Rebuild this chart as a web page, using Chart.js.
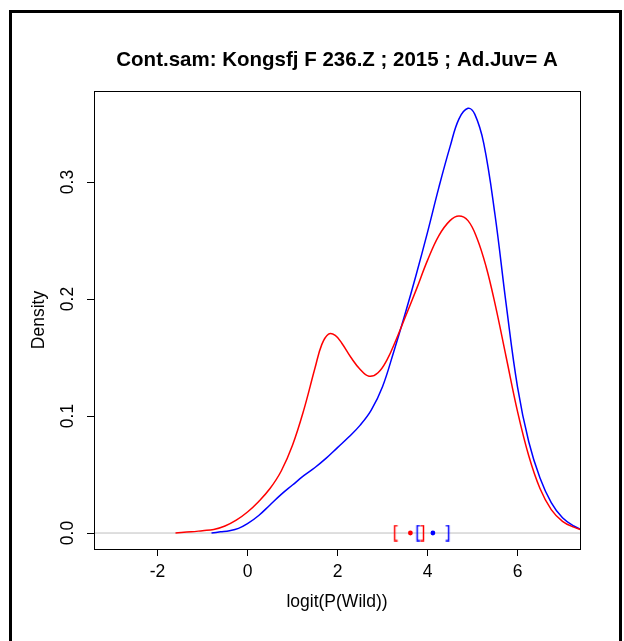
<!DOCTYPE html>
<html><head><meta charset="utf-8">
<script src="https://cdn.jsdelivr.net/npm/chart.js@4"></script>
<style>
html,body{margin:0;padding:0;background:#fff;overflow:hidden;width:624px;height:641px;}
#frame{position:absolute;left:9px;top:10px;width:613px;height:700px;border:3px solid #000;box-sizing:border-box;}
#c{position:absolute;left:0;top:0;}
</style></head><body>
<div id="frame"></div>
<canvas id="c" width="624" height="641"></canvas>
<script>
const titleText = "Cont.sam: Kongsfj F 236.Z ; 2015 ; Ad.Juv= A";
const xAxisLabel = "logit(P(Wild))";
const yAxisLabel = "Density";
const xTicks = [-2, 0, 2, 4, 6];
const xTickLabels = ["-2", "0", "2", "4", "6"];
const yTicks = [0, 0.1, 0.2, 0.3];
const yTickLabels = ["0.0", "0.1", "0.2", "0.3"];

const redX = [-1.6,-1.25,-1.0,-0.75,-0.5,-0.25,0,0.25,0.5,0.75,1.0,1.25,1.5,1.65,1.8,1.95,2.1,2.3,2.5,2.7,2.9,3.1,3.3,3.5,3.75,4.0,4.25,4.5,4.7,4.9,5.1,5.3,5.5,5.75,6.0,6.25,6.5,6.75,7.0,7.25,7.5,7.75];
const redY = [0,0.001,0.002,0.003,0.006,0.011,0.018,0.027,0.038,0.053,0.075,0.105,0.141,0.161,0.170,0.169,0.162,0.150,0.140,0.134,0.137,0.148,0.165,0.184,0.208,0.233,0.254,0.267,0.271,0.267,0.252,0.228,0.196,0.150,0.104,0.066,0.038,0.020,0.010,0.005,0.002,0.001];

const blueX = [-0.8,-0.6,-0.4,-0.2,0,0.25,0.5,0.75,1.0,1.25,1.5,1.75,2.0,2.25,2.5,2.75,3.0,3.25,3.5,3.75,4.0,4.25,4.5,4.7,4.9,5.05,5.25,5.5,5.75,6.0,6.25,6.5,6.75,7.0,7.25,7.5,7.75];
const blueY = [0,0.001,0.002,0.004,0.008,0.015,0.024,0.033,0.041,0.049,0.056,0.064,0.073,0.082,0.092,0.105,0.125,0.155,0.187,0.221,0.257,0.295,0.330,0.354,0.363,0.358,0.333,0.272,0.195,0.125,0.078,0.047,0.026,0.013,0.006,0.002,0.001];

const zeroLineX = [-4, 8];
const zeroLineY = [0, 0];

const redLower = [3.27], redMean = [3.62], redUpper = [3.91];
const blueLower = [3.77], blueMean = [4.12], blueUpper = [4.47];

const RED = '#ff0000', BLUE = '#0000ff';
const FONT = "'Liberation Sans', Arial, sans-serif";

function pts(xs, ys) { return xs.map((x, i) => ({x: x, y: ys[i]})); }
function atZero(xs) { return xs.map(x => ({x: x, y: 0})); }

function bracket(color, side) {
  const c = document.createElement('canvas');
  c.width = 9; c.height = 17;
  const g = c.getContext('2d');
  g.strokeStyle = color; g.lineWidth = 1.5;
  g.beginPath();
  if (side === 'left') { g.moveTo(7.5, 1); g.lineTo(4.5, 1); g.lineTo(4.5, 16); g.lineTo(7.5, 16); }
  else { g.moveTo(1.5, 1); g.lineTo(4.5, 1); g.lineTo(4.5, 16); g.lineTo(1.5, 16); }
  g.stroke();
  return c;
}

function markerSet(data, color, style) {
  return {type: 'scatter', data: data, showLine: false, pointStyle: style,
    pointRadius: style === 'circle' ? 2.4 : 5, backgroundColor: color, borderColor: color,
    borderWidth: 0, order: 0, clip: false};
}

const boxPlugin = {
  id: 'boxPlugin',
  afterLayout(chart) {
    const t = chart.titleBlock;
    if (t) { t.left = chart.chartArea.left; t.right = chart.chartArea.right; }
  },
  afterDraw(chart) {
    const {ctx, chartArea: a} = chart;
    ctx.save();
    ctx.strokeStyle = '#000'; ctx.lineWidth = 1;
    ctx.strokeRect(a.left + 0.5, a.top + 0.5, a.right - a.left, a.bottom - a.top);
    ctx.restore();
  }
};

new Chart(document.getElementById('c'), {
  type: 'line',
  data: {
    datasets: [
      {data: pts(zeroLineX, zeroLineY), borderColor: '#bebebe', borderWidth: 1, pointRadius: 0, order: 10, tension: 0},
      {data: pts(blueX, blueY), borderColor: BLUE, borderWidth: 1.5, pointRadius: 0, tension: 0.4, order: 2},
      {data: pts(redX, redY), borderColor: RED, borderWidth: 1.5, pointRadius: 0, tension: 0.4, order: 1},
      markerSet(atZero(redLower), RED, bracket(RED, 'left')),
      markerSet(atZero(redUpper), RED, bracket(RED, 'right')),
      markerSet(atZero(redMean), RED, 'circle'),
      markerSet(atZero(blueLower), BLUE, bracket(BLUE, 'left')),
      markerSet(atZero(blueUpper), BLUE, bracket(BLUE, 'right')),
      markerSet(atZero(blueMean), BLUE, 'circle')
    ]
  },
  options: {
    responsive: false,
    animation: false,
    devicePixelRatio: 1,
    layout: {padding: {left: 29, right: 44, top: 0, bottom: 0}},
    plugins: {
      legend: {display: false},
      tooltip: {enabled: false},
      title: {display: true, text: titleText, color: '#000',
        font: {family: FONT, size: 20.5, weight: 'bold'}, padding: {top: 48, bottom: 18.4}}
    },
    scales: {
      x: {
        type: 'linear', min: -3.411, max: 7.389,
        afterBuildTicks: s => { s.ticks = xTicks.map(v => ({value: v})); },
        afterFit: s => { s.height = 92; },
        ticks: {color: '#000', font: {family: FONT, size: 17.5}, padding: 5.5, maxRotation: 0, minRotation: 0,
          callback: (v, i) => xTickLabels[i]},
        grid: {display: true, drawOnChartArea: false, drawTicks: true, tickLength: 7, color: '#000', lineWidth: 1},
        border: {display: false},
        title: {display: true, text: xAxisLabel, color: '#000', font: {family: FONT, size: 17.5}, padding: {top: 0, bottom: 28.5}}
      },
      y: {
        type: 'linear', min: -0.01366, max: 0.37778,
        afterBuildTicks: s => { s.ticks = yTicks.map(v => ({value: v})); },
        afterFit: s => { s.width = 65; },
        ticks: {color: '#000', font: {family: FONT, size: 17.5}, padding: 7, minRotation: 90, maxRotation: 90,
          crossAlign: 'center', callback: (v, i) => yTickLabels[i]},
        grid: {display: true, drawOnChartArea: false, drawTicks: true, tickLength: 7, color: '#000', lineWidth: 1},
        border: {display: false},
        title: {display: true, text: yAxisLabel, color: '#000', font: {family: FONT, size: 17.5}, padding: {top: 0, bottom: 0}}
      }
    }
  },
  plugins: [boxPlugin]
});
</script>
</body></html>
